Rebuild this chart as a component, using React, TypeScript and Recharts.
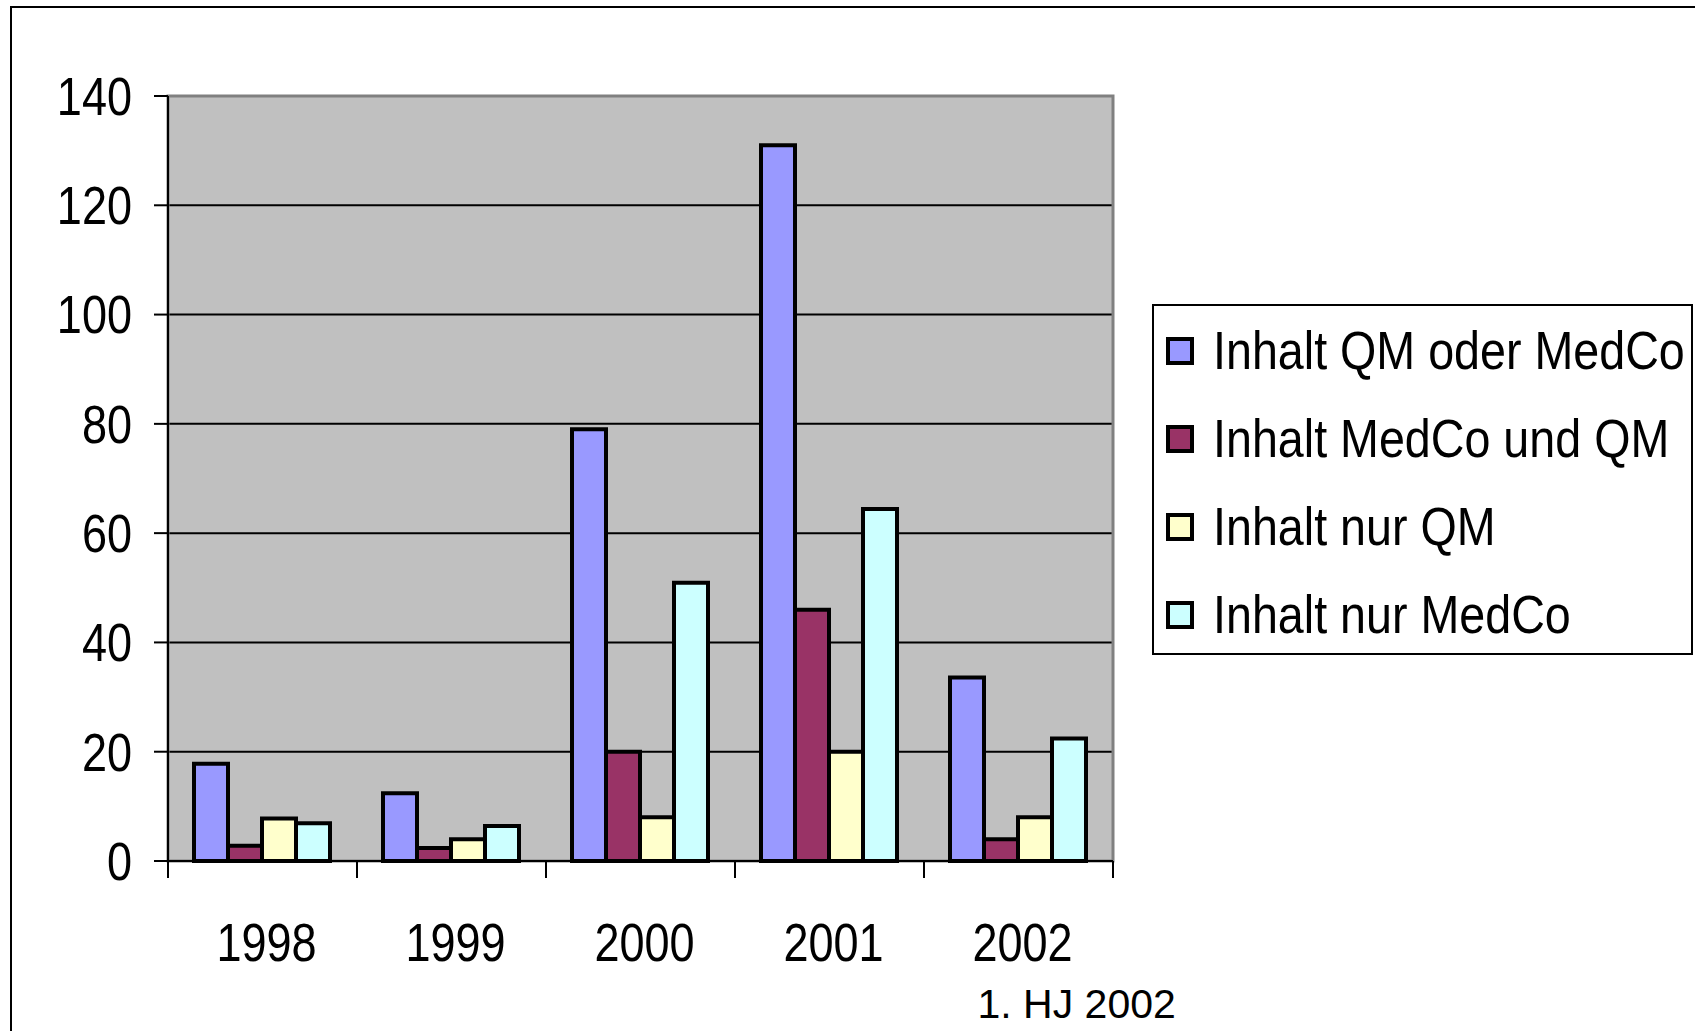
import React from "react";
import {
  BarChart,
  Bar,
  XAxis,
  YAxis,
  CartesianGrid,
  Legend,
  ReferenceArea,
} from "recharts";

const years = ["1998", "1999", "2000", "2001", "2002"];
const yearNotes = ["", "", "", "", "1. HJ 2002"];
const qmOderMedco = [17.8, 12.4, 79, 131, 33.6];
const medcoUndQm = [2.8, 2.4, 20, 46, 4];
const nurQm = [7.8, 4, 8, 20, 8];
const nurMedco = [6.9, 6.4, 50.9, 64.4, 22.4];
const yTicks = [0, 20, 40, 60, 80, 100, 120, 140];

const seriesKeys = ["qmOderMedco", "medcoUndQm", "nurQm", "nurMedco"];
const seriesNames = [
  "Inhalt QM oder MedCo",
  "Inhalt MedCo und QM",
  "Inhalt nur QM",
  "Inhalt nur MedCo",
];
const seriesColors = ["#9999FF", "#993366", "#FFFFCC", "#CCFFFF"];

const chartData = years.map((year, i) => ({
  year,
  qmOderMedco: qmOderMedco[i],
  medcoUndQm: medcoUndQm[i],
  nurQm: nurQm[i],
  nurMedco: nurMedco[i],
}));

const FONT = '"Liberation Sans", Arial, sans-serif';

function YTick({ x, y, payload }: any) {
  return (
    <text
      transform={`translate(${x},${y}) scale(0.85,1)`}
      textAnchor="end"
      dominantBaseline="central"
      fontSize={53}
      fontFamily={FONT}
      fill="#000"
    >
      {payload.value}
    </text>
  );
}

function XTick({ x, y, payload, index }: any) {
  const note = yearNotes[years.indexOf(payload.value)];
  const half = payload.offset || 0;
  return (
    <g>
      <line x1={x - half} x2={x - half} y1={y} y2={y + 17} stroke="#000" strokeWidth={2} />
      {index === years.length - 1 && (
        <line x1={x + half} x2={x + half} y1={y} y2={y + 17} stroke="#000" strokeWidth={2} />
      )}
      <text
        transform={`translate(${x + 4},${y + 81}) scale(0.85,1)`}
        textAnchor="middle"
        dominantBaseline="central"
        fontSize={53}
        fontFamily={FONT}
        fill="#000"
      >
        {payload.value}
      </text>
      {note && (
        <text
          x={x - 41}
          y={y + 143}
          textAnchor="start"
          dominantBaseline="central"
          fontSize={41}
          fontFamily={FONT}
          fill="#000"
        >
          {note}
        </text>
      )}
    </g>
  );
}

function LegendBox() {
  return (
    <div
      style={{
        boxSizing: "border-box",
        width: 541,
        height: 351,
        border: "2px solid #000",
        background: "#fff",
        paddingTop: 1,
      }}
    >
      {seriesNames.map((name, i) => (
        <div key={name} style={{ height: 88, display: "flex", alignItems: "center" }}>
          <span
            style={{
              boxSizing: "border-box",
              width: 28,
              height: 28,
              marginLeft: 12,
              border: "4px solid #000",
              background: seriesColors[i],
              flex: "none",
            }}
          />
          <span
            style={{
              marginLeft: 19,
              fontFamily: FONT,
              fontSize: 53,
              lineHeight: "60px",
              color: "#000",
              whiteSpace: "nowrap",
              display: "inline-block",
              transform: "scale(0.88,1)",
              transformOrigin: "left center",
            }}
          >
            {name}
          </span>
        </div>
      ))}
    </div>
  );
}

export default function App() {
  return (
    <div
      style={{
        position: "fixed",
        left: 0,
        top: 0,
        width: 1695,
        height: 1031,
        overflow: "hidden",
        background: "#fff",
      }}
    >
      <div
        style={{
          position: "absolute",
          left: 10,
          top: 6,
          width: 2000,
          height: 2000,
          border: "2px solid #000",
        }}
      />
      <BarChart
        width={1695}
        height={1031}
        data={chartData}
        margin={{ top: 96, right: 582, bottom: 0, left: 0 }}
        barCategoryGap={26}
        barGap={0}
        style={{ position: "absolute", left: 0, top: 0 }}
      >
        <CartesianGrid
          vertical={false}
          fill="#C0C0C0"
          stroke="#000"
          strokeWidth={2}
          horizontalValues={[20, 40, 60, 80, 100, 120]}
        />
        <ReferenceArea
          y1={0}
          y2={140}
          fill="none"
          stroke="#808080"
          strokeWidth={3}
        />
        <XAxis
          dataKey="year"
          height={170}
          axisLine={{ stroke: "#000", strokeWidth: 2 }}
          tickLine={false}
          tickSize={0}
          tickMargin={0}
          interval={0}
          tick={<XTick />}
        />
        <YAxis
          width={168}
          domain={[0, 140]}
          ticks={yTicks}
          interval={0}
          tickSize={14}
          tickMargin={22}
          tickLine={{ stroke: "#000", strokeWidth: 2 }}
          axisLine={{ stroke: "#000", strokeWidth: 2 }}
          tick={<YTick />}
        />
        <Legend
          layout="horizontal"
          verticalAlign="middle"
          align="center"
          wrapperStyle={{ left: 1152, top: 304, width: 541, height: 351 }}
          content={<LegendBox />}
        />
        {seriesKeys.map((key, i) => (
          <Bar
            key={key}
            dataKey={key}
            name={seriesNames[i]}
            fill={seriesColors[i]}
            stroke="#000"
            strokeWidth={4}
            isAnimationActive={false}
          />
        ))}
      </BarChart>
    </div>
  );
}
